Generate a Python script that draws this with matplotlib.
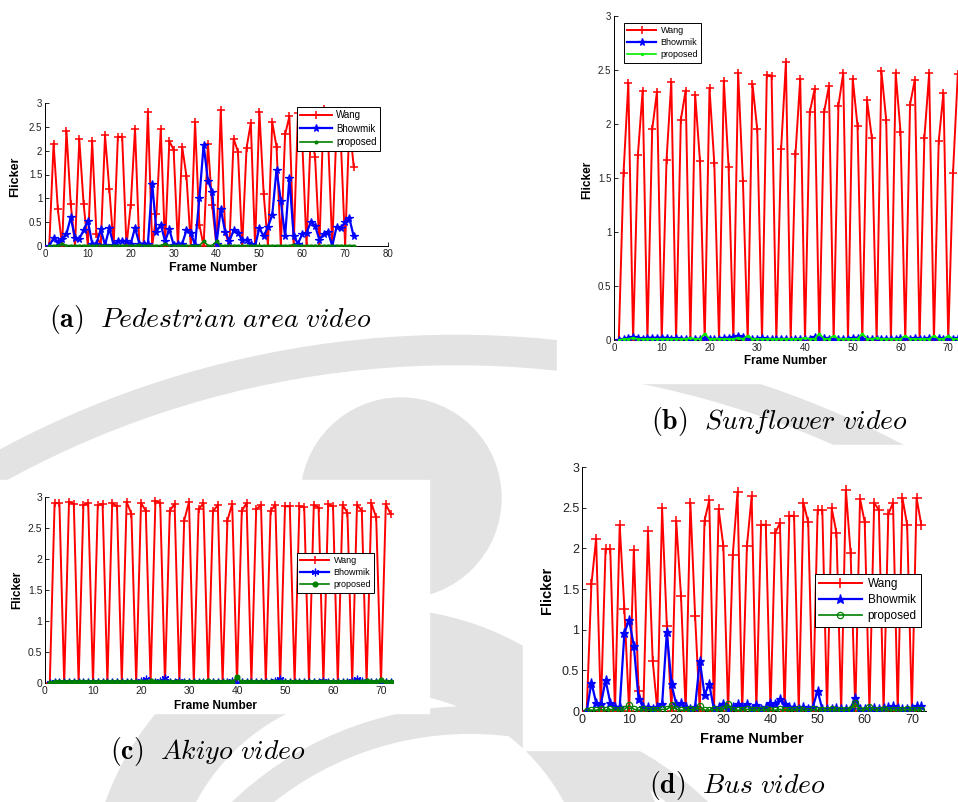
import numpy as np
import matplotlib
matplotlib.use("Agg")
import matplotlib.pyplot as plt
from matplotlib.patches import Circle, Rectangle

plt.rcParams["font.family"] = ["Liberation Sans", "DejaVu Sans"]
plt.rcParams["mathtext.fontset"] = "cm"

W, H = 958, 802

frames = list(range(1, 73))

# (a) Pedestrian area video
ped_wang = [0.0, 2.15, 0.77, 0.0, 2.42, 0.88, 0.0, 2.24, 0.89, 0.0,
            2.2, 0.25, 0.0, 2.32, 1.2, 0.0, 2.29, 2.29, 0.0, 0.86,
            2.46, 0.0, 0.05, 2.82, 0.0, 0.68, 2.45, 0.0, 2.2, 2.02,
            0.0, 2.08, 1.46, 0.0, 2.6, 0.45, 0.0, 2.15, 0.85, 0.0,
            2.85, 0.3, 0.0, 2.25, 1.98, 0.0, 2.05, 2.58, 0.0, 2.82,
            1.1, 0.0, 2.6, 2.08, 0.0, 2.34, 2.72, 0.0, 2.8, 2.2,
            0.0, 2.4, 1.86, 0.0, 2.88, 2.3, 0.0, 2.5, 2.2, 0.0,
            2.6, 1.66]
ped_bhowmik = [0.0, 0.17, 0.08, 0.15, 0.25, 0.6, 0.17, 0.15, 0.33, 0.53,
               0.05, 0.05, 0.35, 0.02, 0.37, 0.02, 0.1, 0.1, 0.1, 0.05,
               0.38, 0.05, 0.05, 0.05, 1.31, 0.3, 0.45, 0.1, 0.35, 0.02,
               0.05, 0.05, 0.33, 0.27, 0.02, 1.0, 2.12, 1.37, 1.14, 0.05,
               0.78, 0.3, 0.1, 0.33, 0.28, 0.12, 0.12, 0.05, 0.0, 0.38,
               0.2, 0.4, 0.65, 1.6, 0.95, 0.2, 1.43, 0.2, 0.05, 0.25,
               0.28, 0.5, 0.42, 0.13, 0.25, 0.3, 0.0, 0.4, 0.38, 0.5,
               0.58, 0.2]
ped_proposed = [0.0, 0.01, 0.01, 0.05, 0.01, 0.01, 0.01, 0.01, 0.01, 0.01,
                0.01, 0.01, 0.01, 0.01, 0.01, 0.01, 0.01, 0.01, 0.01, 0.01,
                0.01, 0.02, 0.01, 0.01, 0.01, 0.01, 0.01, 0.05, 0.01, 0.01,
                0.01, 0.01, 0.01, 0.01, 0.01, 0.01, 0.1, 0.01, 0.01, 0.1,
                0.01, 0.01, 0.01, 0.01, 0.01, 0.01, 0.01, 0.01, 0.01, 0.01,
                0.01, 0.01, 0.01, 0.01, 0.01, 0.01, 0.01, 0.03, 0.01, 0.01,
                0.01, 0.01, 0.01, 0.01, 0.01, 0.01, 0.01, 0.01, 0.01, 0.01,
                0.01, 0.01]

# (b) Sunflower video
sun_wang = [0.0, 1.55, 2.38, 0.0, 1.71, 2.31, 0.0, 1.95, 2.3, 0.0,
            1.67, 2.39, 0.0, 2.04, 2.31, 0.0, 2.27, 1.66, 0.0, 2.33,
            1.64, 0.0, 2.4, 1.6, 0.0, 2.47, 1.47, 0.0, 2.37, 1.95,
            0.0, 2.45, 2.44, 0.0, 1.77, 2.57, 0.0, 1.72, 2.42, 0.0,
            2.11, 2.32, 0.0, 2.11, 2.35, 0.0, 2.17, 2.47, 0.0, 2.42,
            1.98, 0.0, 2.22, 1.87, 0.0, 2.49, 2.04, 0.0, 2.47, 1.93,
            0.0, 2.18, 2.41, 0.0, 1.87, 2.47, 0.0, 1.84, 2.29, 0.0,
            1.55, 2.46]
sun_bhowmik = [0.0, 0.01, 0.02, 0.03, 0.02, 0.01, 0.02, 0.02, 0.02, 0.02,
               0.02, 0.01, 0.02, 0.01, 0.01, 0.0, 0.01, 0.01, 0.02, 0.01,
               0.01, 0.01, 0.02, 0.02, 0.03, 0.04, 0.03, 0.01, 0.01, 0.01,
               0.02, 0.01, 0.01, 0.01, 0.01, 0.01, 0.0, 0.01, 0.01, 0.01,
               0.01, 0.03, 0.01, 0.02, 0.01, 0.0, 0.01, 0.01, 0.01, 0.02,
               0.02, 0.01, 0.01, 0.01, 0.01, 0.01, 0.01, 0.01, 0.01, 0.02,
               0.01, 0.01, 0.02, 0.01, 0.01, 0.02, 0.01, 0.02, 0.01, 0.02,
               0.01, 0.02]
sun_proposed = [0.0, 0.01, 0.01, 0.02, 0.01, 0.01, 0.01, 0.01, 0.01, 0.01,
                0.01, 0.01, 0.01, 0.01, 0.01, 0.02, 0.01, 0.01, 0.06, 0.01,
                0.01, 0.01, 0.01, 0.01, 0.01, 0.02, 0.01, 0.04, 0.01, 0.01,
                0.01, 0.01, 0.01, 0.01, 0.01, 0.01, 0.01, 0.01, 0.01, 0.02,
                0.01, 0.01, 0.06, 0.01, 0.01, 0.04, 0.01, 0.01, 0.01, 0.01,
                0.01, 0.06, 0.01, 0.01, 0.02, 0.01, 0.01, 0.01, 0.01, 0.01,
                0.04, 0.01, 0.01, 0.01, 0.01, 0.01, 0.04, 0.01, 0.01, 0.04,
                0.01, 0.01]

# (c) Akiyo video
aki_wang = [0.0, 2.9, 2.9, 0.0, 2.92, 2.89, 0.0, 2.87, 2.9, 0.0,
            2.87, 2.89, 0.0, 2.9, 2.85, 0.0, 2.92, 2.73, 0.0, 2.9,
            2.78, 0.0, 2.93, 2.91, 0.0, 2.78, 2.89, 0.0, 2.62, 2.92,
            0.0, 2.8, 2.9, 0.0, 2.77, 2.87, 0.0, 2.62, 2.89, 0.0,
            2.78, 2.9, 0.0, 2.8, 2.87, 0.0, 2.78, 2.87, 0.0, 2.85,
            2.85, 0.0, 2.85, 2.84, 0.0, 2.87, 2.83, 0.0, 2.88, 2.85,
            0.0, 2.87, 2.75, 0.0, 2.87, 2.78, 0.0, 2.9, 2.67, 0.0,
            2.88, 2.73]
aki_bhowmik = [0.0, 0.01, 0.02, 0.01, 0.02, 0.01, 0.02, 0.01, 0.02, 0.01,
               0.02, 0.01, 0.02, 0.01, 0.02, 0.02, 0.01, 0.02, 0.02, 0.03,
               0.06, 0.02, 0.02, 0.03, 0.08, 0.02, 0.02, 0.03, 0.02, 0.02,
               0.02, 0.01, 0.02, 0.02, 0.02, 0.01, 0.02, 0.02, 0.03, 0.0,
               0.02, 0.02, 0.01, 0.02, 0.02, 0.02, 0.02, 0.03, 0.07, 0.02,
               0.02, 0.01, 0.02, 0.02, 0.02, 0.02, 0.02, 0.04, 0.02, 0.02,
               0.02, 0.01, 0.02, 0.03, 0.06, 0.03, 0.02, 0.02, 0.02, 0.02,
               0.02, 0.02]
aki_proposed = [0.0, 0.01, 0.01, 0.01, 0.01, 0.01, 0.01, 0.01, 0.01, 0.01,
                0.01, 0.01, 0.01, 0.01, 0.01, 0.01, 0.01, 0.01, 0.01, 0.01,
                0.01, 0.04, 0.01, 0.01, 0.01, 0.01, 0.01, 0.02, 0.01, 0.01,
                0.01, 0.01, 0.01, 0.04, 0.01, 0.01, 0.01, 0.01, 0.01, 0.1,
                0.01, 0.01, 0.01, 0.01, 0.01, 0.01, 0.01, 0.01, 0.01, 0.01,
                0.01, 0.01, 0.01, 0.01, 0.01, 0.01, 0.01, 0.01, 0.01, 0.01,
                0.01, 0.01, 0.01, 0.01, 0.01, 0.01, 0.03, 0.01, 0.01, 0.05,
                0.01, 0.01]

# (d) Bus video
bus_wang = [0.0, 1.56, 2.12, 0.0, 1.99, 1.99, 0.0, 2.29, 1.25, 0.0,
            1.98, 0.25, 0.0, 2.21, 0.62, 0.0, 2.49, 1.05, 0.0, 2.33,
            1.42, 0.0, 2.56, 1.17, 0.0, 2.34, 2.59, 0.0, 2.48, 2.03,
            0.0, 1.92, 2.69, 0.0, 2.03, 2.64, 0.0, 2.29, 2.29, 0.0,
            2.19, 2.31, 0.0, 2.4, 2.4, 0.0, 2.56, 2.32, 0.0, 2.47,
            2.47, 0.0, 2.49, 2.19, 0.0, 2.72, 1.94, 0.0, 2.61, 2.32,
            0.0, 2.56, 2.47, 0.0, 2.42, 2.56, 0.0, 2.62, 2.29, 0.0,
            2.62, 2.29]
bus_bhowmik = [0.0, 0.35, 0.1, 0.08, 0.38, 0.1, 0.05, 0.05, 0.96, 1.12,
               0.8, 0.15, 0.05, 0.05, 0.03, 0.05, 0.08, 0.97, 0.33, 0.08,
               0.1, 0.05, 0.03, 0.05, 0.62, 0.2, 0.33, 0.02, 0.05, 0.08,
               0.03, 0.05, 0.08, 0.05, 0.08, 0.03, 0.07, 0.03, 0.05, 0.1,
               0.08, 0.15, 0.08, 0.05, 0.05, 0.03, 0.05, 0.02, 0.05, 0.25,
               0.02, 0.03, 0.03, 0.04, 0.03, 0.03, 0.03, 0.16, 0.03, 0.02,
               0.03, 0.04, 0.03, 0.04, 0.05, 0.06, 0.04, 0.03, 0.03, 0.04,
               0.06, 0.06]
bus_proposed = [0.0, 0.01, 0.01, 0.02, 0.01, 0.02, 0.01, 0.01, 0.02, 0.07,
                0.02, 0.01, 0.02, 0.01, 0.01, 0.01, 0.02, 0.02, 0.07, 0.02,
                0.01, 0.01, 0.02, 0.01, 0.06, 0.01, 0.01, 0.02, 0.01, 0.02,
                0.08, 0.01, 0.01, 0.01, 0.02, 0.01, 0.01, 0.01, 0.02, 0.01,
                0.01, 0.02, 0.01, 0.01, 0.01, 0.02, 0.01, 0.0, 0.02, 0.01,
                0.01, 0.01, 0.02, 0.01, 0.01, 0.01, 0.02, 0.1, 0.01, 0.01,
                0.05, 0.01, 0.01, 0.03, 0.01, 0.01, 0.01, 0.01, 0.02, 0.01,
                0.01, 0.01]

series_names = ["Wang", "Bhowmik", "proposed"]
yticks = [0, 0.5, 1, 1.5, 2, 2.5, 3]
ytick_labels = ["0", "0.5", "1", "1.5", "2", "2.5", "3"]


def px_axes(fig, x0, y_top, x1, y_bot):
    return fig.add_axes([x0 / W, 1 - y_bot / H, (x1 - x0) / W, (y_bot - y_top) / H])


def fig_xy(x, y):
    return x / W, 1 - y / H


def panel(ax, cfg, data):
    wang, bhow, prop = data
    ax.set_facecolor("none")
    ax.plot(frames, wang, "-", color="red", lw=1.4, marker="+", ms=cfg["ms"], mew=1.1,
            label=series_names[0], zorder=3)
    ax.plot(frames, bhow, "-", color="blue", lw=1.6, marker=cfg["bmark"], ms=cfg["ms"] - 0.5,
            mew=0.9, label=series_names[1], zorder=4)
    ax.plot(frames, prop, "-", color=cfg["gcol"], lw=1.2, marker=cfg["gmark"], ms=cfg["gms"],
            mfc=cfg["gmfc"], mew=0.9, label=series_names[2], zorder=5)
    ax.set_xlim(0, cfg["xmax"])
    ax.set_ylim(0, 3)
    ax.set_yticks(yticks)
    ax.set_yticklabels(ytick_labels)
    ax.set_xticks(cfg["xticks"])
    ax.set_xticklabels([str(t) for t in cfg["xticks"]])
    for s in ["top", "right"]:
        ax.spines[s].set_visible(False)
    for s in ["left", "bottom"]:
        ax.spines[s].set_linewidth(0.7)
    ax.tick_params(direction="in", length=3, width=0.6, labelsize=cfg["tick"], pad=2,
                   labelcolor="#222222")
    ax.set_xlabel("Frame Number", fontsize=cfg["lab"], fontweight="bold")
    ax.set_ylabel("Flicker", fontsize=cfg["lab"], fontweight="bold")
    x0, x1, yt, yb = cfg["box"]
    xl, yl = cfg["xlab"]
    ax.xaxis.set_label_coords((xl - x0) / (x1 - x0), (yb - yl) / (yb - yt))
    fx, fy = cfg["ylab"]
    ax.yaxis.set_label_coords((fx - x0) / (x1 - x0), (yb - fy) / (yb - yt))
    ax.xaxis.label.set_va("center")
    ax.yaxis.label.set_va("center")
    lg = ax.legend(loc="upper left", bbox_to_anchor=fig_xy(*cfg["leg"]),
                   bbox_transform=fig.transFigure, borderaxespad=0,
                   fontsize=cfg["legfs"], handlelength=cfg["hl"], fancybox=False,
                   framealpha=1, edgecolor="black", borderpad=0.35,
                   labelspacing=0.35, handletextpad=0.5)
    lg.get_frame().set_linewidth(0.7)


fig = plt.figure(figsize=(W / 100, H / 100), dpi=100)

# faint watermark behind the panels
bg = fig.add_axes([0, 0, 1, 1], zorder=-5)
bg.set_xlim(0, W)
bg.set_ylim(H, 0)
bg.axis("off")
wm = "#e3e3e3"
bg.add_patch(Circle((456, 1300), 950, fill=False, lw=22, ec=wm))
bg.add_patch(Circle((401, 498), 100, color=wm))
bg.add_patch(Circle((380, 900), 250, fill=False, lw=60, ec=wm))
bg.add_patch(Circle((470, 1050), 330, fill=False, lw=20, ec=wm))
for rx, ry, rw, rh in [(0, 85, 400, 195), (557, 0, 401, 383), (0, 480, 429, 233), (523, 445, 435, 305)]:
    bg.add_patch(Rectangle((rx, ry), rw, rh, color="white"))

cfgs = [
    dict(box=(45, 388, 103, 246), xmax=80, xticks=[0, 10, 20, 30, 40, 50, 60, 70, 80],
         tick=7, lab=9, legfs=7, hl=3.2, ms=6, bmark="*", gmark=".", gcol="#008000", gms=4,
         gmfc="#008000", xlab=(213, 268), ylab=(15, 177), leg=(297, 107)),
    dict(box=(614, 996, 16, 340), xmax=80, xticks=[0, 10, 20, 30, 40, 50, 60, 70, 80],
         tick=7, lab=8.5, legfs=6.5, hl=3.2, ms=6, bmark="*", gmark=".", gcol="#00ee00", gms=3,
         gmfc="#00ee00", xlab=(785, 361), ylab=(587, 180), leg=(624, 23)),
    dict(box=(45, 393, 497, 683), xmax=72.5, xticks=[0, 10, 20, 30, 40, 50, 60, 70],
         tick=7.5, lab=8.5, legfs=6.5, hl=3.2, ms=6, bmark=(6, 2, 0), gmark="o", gcol="#008000",
         gms=3.5, gmfc="#008000", xlab=(215, 706), ylab=(17, 590), leg=(297, 553)),
    dict(box=(582, 926, 467, 711), xmax=73, xticks=[0, 10, 20, 30, 40, 50, 60, 70],
         tick=9, lab=10.5, legfs=8.5, hl=3.6, ms=7, bmark="*", gmark="o", gcol="#008000", gms=4.5,
         gmfc="none", xlab=(752, 739), ylab=(547, 590), leg=(815, 574)),
]
datasets = [(ped_wang, ped_bhowmik, ped_proposed),
            (sun_wang, sun_bhowmik, sun_proposed),
            (aki_wang, aki_bhowmik, aki_proposed),
            (bus_wang, bus_bhowmik, bus_proposed)]

for cfg, data in zip(cfgs, datasets):
    x0, x1, yt, yb = cfg["box"]
    ax = px_axes(fig, x0, yt, x1, yb)
    panel(ax, cfg, data)

captions = [
    (r"$\mathbf{(a)}\ \ \mathit{Pedestrian\ area\ video}$", 210, 320),
    (r"$\mathbf{(b)}\ \ \mathit{Sunflower\ video}$", 780, 422),
    (r"$\mathbf{(c)}\ \ \mathit{Akiyo\ video}$", 208, 751),
    (r"$\mathbf{(d)}\ \ \mathit{Bus\ video}$", 737, 785),
]
for txt, cx, cy in captions:
    fig.text(*fig_xy(cx, cy), txt, fontsize=20, ha="center", va="center")

fig.savefig("out.png", dpi=100)
